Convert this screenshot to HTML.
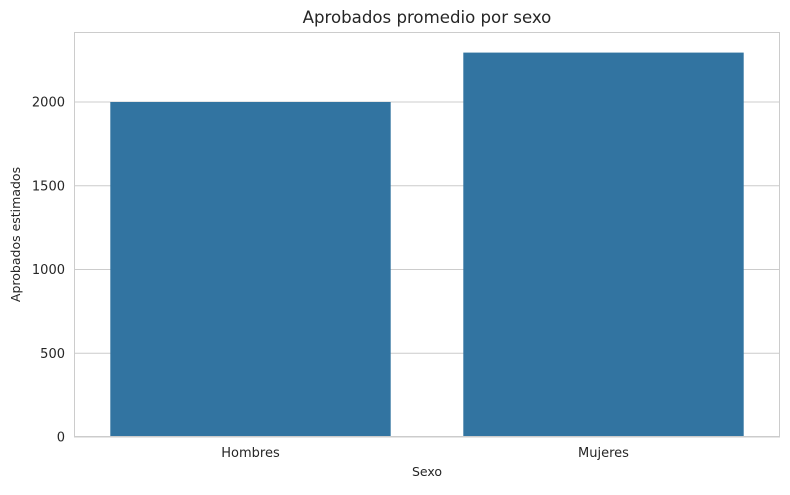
<!DOCTYPE html>
<html><head><meta charset="utf-8"><style>
body{margin:0;background:#fff;}
svg text{font-family:"DejaVu Sans","Liberation Sans",sans-serif;fill:#262626;}
</style></head><body>
<svg id="chart" width="790" height="490">
<text x="427" y="23" text-anchor="middle" font-size="16.6">Aprobados promedio por sexo</text>
<g id="grid"></g>
<g id="bars"></g>
<rect x="74.5" y="32.5" width="705" height="404" fill="none" stroke="#cccccc" stroke-width="1"/>
<g id="ticks"></g>
<text x="427" y="476" text-anchor="middle" font-size="12.5">Sexo</text>
<text transform="translate(20,234.5) rotate(-90)" text-anchor="middle" font-size="12.5">Aprobados estimados</text>
</svg>
<script>
const categories = ["Hombres", "Mujeres"];
const values = [2000, 2295];
const yTicks = [0, 500, 1000, 1500, 2000];
const NS = "http://www.w3.org/2000/svg";
const L = 74, R = 780, T = 32, B = 437;
function y(v){ return B - v * (335 / 2000); }
const band = (R - L) / categories.length;
function xc(i){ return L + band * (i + 0.5); }
const grid = document.getElementById('grid'), bars = document.getElementById('bars'), ticks = document.getElementById('ticks');
yTicks.forEach(t => {
  const ln = document.createElementNS(NS, 'line');
  ln.setAttribute('x1', L); ln.setAttribute('x2', R);
  ln.setAttribute('y1', y(t)); ln.setAttribute('y2', y(t));
  ln.setAttribute('stroke', '#cccccc');
  
  
  grid.appendChild(ln);
  const tx = document.createElementNS(NS, 'text');
  tx.setAttribute('x', L - 9); tx.setAttribute('y', y(t) + 4.5);
  tx.setAttribute('text-anchor', 'end'); tx.setAttribute('font-size', '13');
  tx.textContent = t;
  
  
  ticks.appendChild(tx);
});
categories.forEach((c, i) => {
  const w = band * 0.8 - 2;
  const r = document.createElementNS(NS, 'rect');
  r.setAttribute('x', xc(i) - w / 2); r.setAttribute('width', w);
  r.setAttribute('y', y(values[i])); r.setAttribute('height', B - y(values[i]));
  r.setAttribute('fill', '#3274a1');
  
  
  bars.appendChild(r);
  const tx = document.createElementNS(NS, 'text');
  tx.setAttribute('x', xc(i)); tx.setAttribute('y', B + 20);
  tx.setAttribute('text-anchor', 'middle'); tx.setAttribute('font-size', '13');
  tx.textContent = c;
  
  
  ticks.appendChild(tx);
});
</script>
</body></html>
